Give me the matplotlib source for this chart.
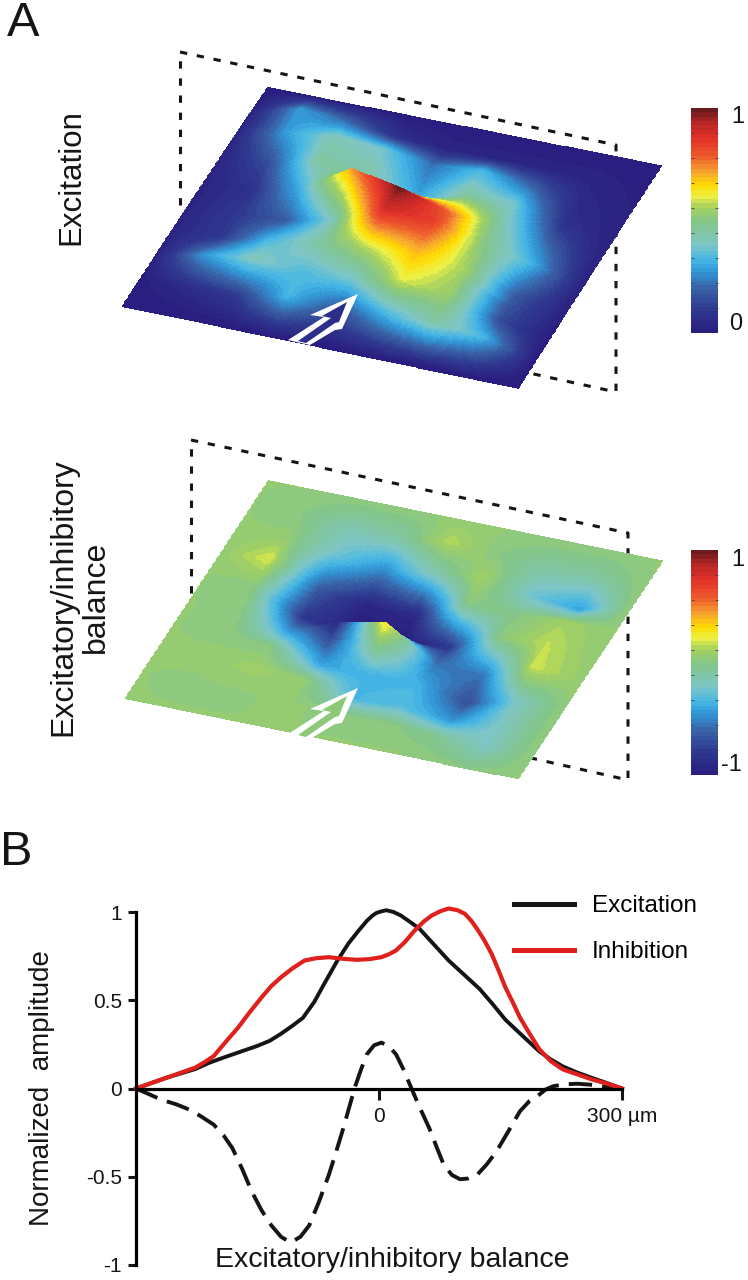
import numpy as np
from matplotlib import pyplot as plt
from matplotlib.colors import LinearSegmentedColormap
from matplotlib.lines import Line2D

plt.rcParams['font.family'] = ['Liberation Sans', 'DejaVu Sans']

# surface values, rows go from the back edge to the front edge of the plot
excitation_map = np.array([
    [.00, .00, .00, .00, .00, .00, .00, .00, .00],
    [.02, .28, .20, .07, .03, .03, .03, .03, .01],
    [.03, .28, .42, .38, .22, .33, .20, .05, .02],
    [.03, .15, .45, .45, .30, .46, .38, .08, .02],
    [.03, .08, .32, .72, 1.0, .78, .45, .20, .02],
    [.03, .10, .18, .42, .90, .85, .50, .32, .02],
    [.03, .10, .32, .45, .58, .70, .55, .18, .02],
    [.02, .28, .42, .34, .38, .60, .54, .14, .01],
    [.01, .05, .10, .33, .12, .30, .45, .33, .01],
    [.00, .00, .00, .00, .00, .00, .00, .00, .00]])

# heights differ from the colour values along the fold behind the peak
excitation_height = excitation_map.copy()
excitation_height[3, 3] = .30
excitation_height[3, 4] = .00
excitation_height[3, 5] = .30
excitation_height[4, 3] = 1.02
excitation_height[4, 4] = .82
excitation_height[4, 5] = .45

balance_map = np.array([
    [.04, .04, .04, .04, .04, .04, .04, .04, .04],
    [.04, .00, -.16, -.10, .15, .00, -.10, -.10, .04],
    [.04, .06, -.25, -.50, -.15, .12, -.25, -.42, .04],
    [.05, .20, -.65, -.95, -.90, .00, -.02, .10, .04],
    [.04, .00, -.80, -1.0, -1.0, -.80, .02, .16, .04],
    [.04, .03, -.42, -.90, .30, -.55, -.55, .18, .06],
    [.04, .03, .00, -.40, -.36, -.36, -.70, -.20, .04],
    [.04, .05, .10, .05, -.35, -.30, -.45, -.20, .04],
    [.04, .03, .03, .05, .02, .02, -.05, -.20, .04],
    [.04, .04, .04, .04, .04, .04, .04, .00, .04]])

balance_height = balance_map.copy()
balance_height[5, 3] = .40
balance_height[5, 4] = .80

# line profiles
dist_exc = [-300, -263, -227, -210, -192, -170, -151, -135, -121, -107, -94, -80, -68, -52, -38, -26, -15, -8, -3, 4, 9, 18, 27, 38, 50, 68, 86, 105, 124, 140, 156, 178, 198, 212, 227, 245, 263, 282, 300]
amp_exc = [0, .06, .11, .145, .175, .21, .24, .27, .31, .355, .40, .49, .59, .72, .82, .89, .95, .98, .995, 1.005, 1.01, 1.0, .98, .945, .905, .815, .725, .645, .565, .48, .39, .295, .21, .165, .125, .09, .06, .03, 0]

dist_inh = [-300, -263, -227, -215, -204, -190, -174, -160, -145, -133, -121, -107, -92, -78, -62, -45, -27, -12, 3, 12, 21, 32, 44, 55, 65, 76, 86, 97, 106, 114, 121, 130, 139, 148, 156, 165, 174, 186, 198, 212, 227, 245, 263, 282, 300]
amp_inh = [0, .06, .118, .15, .184, .26, .345, .43, .516, .58, .63, .68, .725, .738, .744, .735, .729, .733, .744, .76, .782, .83, .895, .945, .98, 1.005, 1.02, 1.01, .99, .95, .905, .84, .763, .665, .573, .49, .402, .31, .222, .155, .108, .08, .051, .027, 0]

dist_bal = [-300, -285, -269, -250, -234, -219, -204, -192, -181, -169, -157, -145, -133, -121, -109, -97, -86, -74, -62, -53, -44, -37, -30, -22, -15, -6, 3, 12, 21, 30, 38, 50, 62, 71, 80, 90, 100, 110, 121, 133, 145, 160, 174, 186, 198, 206, 215, 230, 245, 260, 274, 300]
amp_bal = [0, -.03, -.063, -.09, -.12, -.16, -.205, -.265, -.338, -.455, -.585, -.69, -.775, -.84, -.873, -.84, -.775, -.64, -.49, -.36, -.224, -.11, .004, .11, .194, .245, .26, .24, .194, .11, .023, -.105, -.224, -.33, -.433, -.49, -.514, -.51, -.49, -.43, -.357, -.24, -.129, -.07, -.034, -.005, .013, .024, .027, .022, .013, 0]

y_ticks = [-1, -.5, 0, .5, 1]
y_tick_labels = ['-1', '-0.5', '0', '0.5', '1']
x_ticks = [0, 300]
x_tick_labels = ['0', '300 µm']

jet_soft = LinearSegmentedColormap.from_list('jet_soft', [
    (0.00, '#2a1f80'), (0.10, '#2f3a90'), (0.19, '#3a62a8'), (0.27, '#3297d6'),
    (0.32, '#45b6e6'), (0.39, '#7dc6c6'), (0.49, '#84c68a'), (0.56, '#a3d060'),
    (0.61, '#eef045'), (0.66, '#ffdc00'), (0.72, '#f7a530'), (0.79, '#ee5a2c'),
    (0.88, '#e0302a'), (0.95, '#b02525'), (1.00, '#6a1c1c')], N=52)


def refine(grid, n=20):
    rows = np.arange(grid.shape[0])
    cols = np.arange(grid.shape[1])
    fine_r = np.linspace(0, rows[-1], (len(rows) - 1) * n + 1)
    fine_c = np.linspace(0, cols[-1], (len(cols) - 1) * n + 1)
    tmp = np.array([np.interp(fine_c, cols, r) for r in grid])
    return np.array([np.interp(fine_r, rows, c) for c in tmp.T]).T


def draw_surface(ax, grid, corners, lift, vmin, vmax, heights):
    back, right, left, front = [np.array(c, float) for c in corners]
    vals = refine(grid)
    h = refine(heights)
    t = np.linspace(0, 1, vals.shape[0])[:, None]
    s = np.linspace(0, 1, vals.shape[1])[None, :]
    x = (1-s)*(1-t)*back[0] + s*(1-t)*right[0] + (1-s)*t*left[0] + s*t*front[0]
    y = (1-s)*(1-t)*back[1] + s*(1-t)*right[1] + (1-s)*t*left[1] + s*t*front[1] - lift*h
    cells = (vals[:-1, :-1] + vals[1:, 1:] + vals[1:, :-1] + vals[:-1, 1:]) / 4
    ax.pcolormesh(x, y, cells, cmap=jet_soft, vmin=vmin, vmax=vmax, shading='flat',
                  antialiased=False, edgecolors='face', linewidth=0.2, zorder=2)


def draw_box(ax, xs, ys):
    ax.plot(xs, ys, color='#151515', lw=2.2, dashes=(2.4, 3.2), zorder=1)


def draw_bar(pos, vmin, vmax, labels):
    cax = fig.add_axes([pos[0]/748, 1-pos[3]/1280, (pos[1]-pos[0])/748, (pos[3]-pos[2])/1280])
    cax.imshow(np.linspace(vmax, vmin, 52)[:, None], aspect='auto', cmap=jet_soft,
               vmin=vmin, vmax=vmax, extent=[0, 1, 0, 1])
    cax.set_xticks([])
    cax.yaxis.set_ticks_position('both')
    cax.set_yticks(np.arange(1, 9) / 9)
    cax.tick_params(axis='y', direction='in', length=2, width=0.6, color='#444444', labelleft=False)
    for sp in cax.spines.values():
        sp.set_visible(False)
    for txt, xp, yp in labels:
        ax.text(xp, yp, txt, fontsize=17, ha='center', va='center', color='#151515')


def draw_arrow(ax, dy, inner):
    ax.fill([358, 310, 324, 288, 310, 335, 342], np.array([294, 315, 317, 340, 345, 330, 329]) + dy,
            color='white', lw=0, zorder=3)
    ax.fill([347, 322, 331, 298, 306, 335, 339], np.array([302, 316, 318, 341, 343, 323, 322]) + dy,
            color=inner, lw=0, zorder=4)


fig = plt.figure(figsize=(7.48, 12.8), dpi=100)
ax = fig.add_axes([0, 0, 1, 1])
ax.set_xlim(0, 748)
ax.set_ylim(1280, 0)
ax.axis('off')

draw_box(ax, [180, 180], [205, 52])
draw_box(ax, [180, 616, 616, 520], [52, 145, 392, 371])
draw_box(ax, [191, 191], [593, 440])
draw_box(ax, [191, 628, 628, 531], [440, 533, 780, 758])

draw_surface(ax, excitation_map, [(268, 88), (661, 166), (123, 306), (518, 388)], 45, 0, 1, excitation_height)
draw_surface(ax, balance_map, [(269, 482), (662, 562), (126, 699), (518, 779)], 25, -1, 1, balance_height)

draw_arrow(ax, 0, '#2b2f8a')
draw_arrow(ax, 394, '#8cc878')

draw_bar((691, 718, 108, 333), 0, 1, [('1', 738, 117), ('0', 736, 324)])
draw_bar((691, 718, 550, 775), -1, 1, [('1', 738, 560), ('-1', 731, 765)])

ax.text(7, 36, 'A', fontsize=35, ha='left', va='baseline', color='#151515')
ax.text(0, 865, 'B', fontsize=35, ha='left', va='baseline', color='#151515')
ax.text(71, 177, 'Excitation', fontsize=22.5, rotation=90, ha='center', va='center', color='#151515')
ax.text(80, 597, 'Excitatory/inhibitory\nbalance', fontsize=23, rotation=90, ha='center', va='center',
        color='#151515', linespacing=1.1)

chart = fig.add_axes([136/748, 1-1265/1280, (622-136)/748, (1265-912)/1280])
chart.patch.set_alpha(0)
chart.plot(dist_bal, amp_bal, color='#151515', lw=2.8, dashes=(6, 2.6), clip_on=False)
chart.plot(dist_exc, amp_exc, color='#151515', lw=2.8, clip_on=False)
chart.plot(dist_inh, amp_inh, color='#e0201c', lw=3.0, clip_on=False)
chart.set_xlim(-300, 300)
chart.set_ylim(-1, 1)
chart.spines['top'].set_visible(False)
chart.spines['right'].set_visible(False)
chart.spines['left'].set_linewidth(2.3)
chart.spines['bottom'].set_position(('data', 0))
chart.spines['bottom'].set_linewidth(2.3)
chart.set_yticks(y_ticks)
chart.set_yticklabels(y_tick_labels)
chart.set_xticks(x_ticks)
chart.set_xticklabels(x_tick_labels)
chart.tick_params(axis='y', length=6, width=2.2, labelsize=15, pad=4, colors='#151515')
chart.tick_params(axis='x', length=8, width=2.2, labelsize=15, pad=5, colors='#151515')
chart.set_xlabel('Excitatory/inhibitory balance', fontsize=20.5, color='#151515')
chart.xaxis.set_label_coords(0.527, 0.05)
chart.set_ylabel('Normalized  amplitude', fontsize=20, color='#151515')
chart.yaxis.set_label_coords(-0.166, 0.5)

handles = [Line2D([], [], color='#151515', lw=3.6), Line2D([], [], color='#e0201c', lw=3.6)]
fig.legend(handles, ['Excitation', 'Inhibition'], loc='upper left', bbox_to_anchor=(514/748, 1-895/1280),
           frameon=False, fontsize=17.5, handlelength=2.45, handletextpad=0.75, labelspacing=1.0,
           borderpad=0, borderaxespad=0)

fig.savefig('out.png', dpi=100)
